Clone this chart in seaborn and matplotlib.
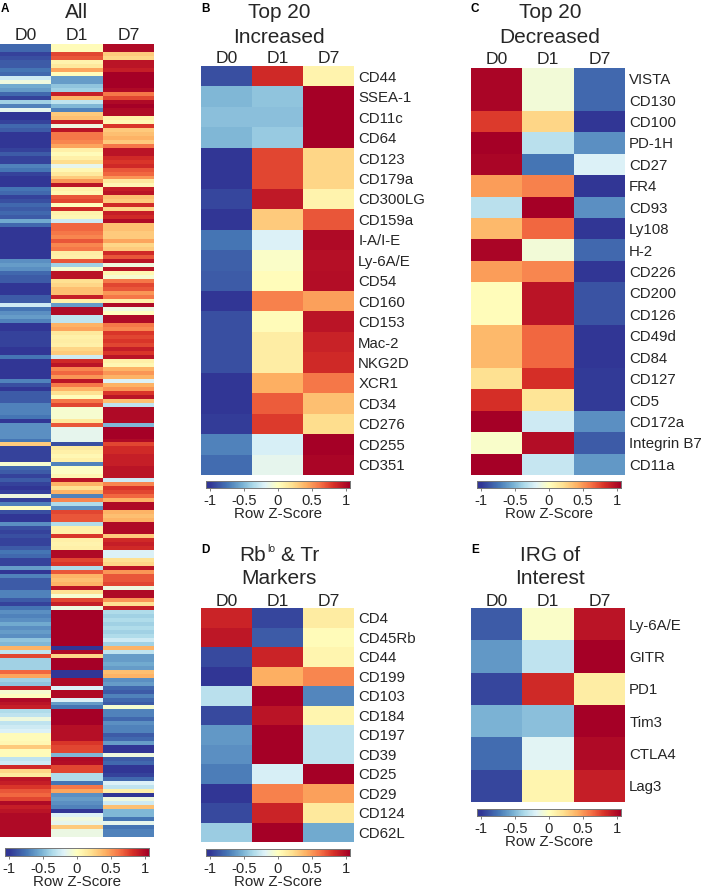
import pandas as pd
import matplotlib
matplotlib.use('Agg')
import matplotlib.pyplot as plt
from matplotlib.colors import LinearSegmentedColormap
import seaborn as sns

days = ['D0', 'D1', 'D7']

# Panel A, all markers (row by row, read from top to bottom)
all_d0 = [-.8,-.8,-.95,-.9,-.85,-.85,-.75,-.8,-.25,-.1,-.55,-.6,-.8,-.95,-.4,-.7,-.15,-1,-1,-.95,
          -.8,-.85,-1.05,-1.05,-1.05,-1,-.95,-.85,-.95,-.95,-.7,-.75,-.95,-1,-1,-1,-.75,-.8,-.95,-.9,
          -.8,-.85,-.8,-.85,-.55,-.8,-1.05,-1.05,-1.05,-1,-1.05,-1.05,-1.05,-1,-.65,-.6,-.65,-.8,-.85,-.85,
          -1,-1,-1,-.85,-.85,
          -.25,-.75,-.65,-.6,-.7,-1,-1,-.95,-.95,-.95,-.95,-1,-1,-.75,-1,-1,-1,-1,-1,-.7,
          -.9,-1,-.85,-.85,-.85,-.7,-.7,-.7,-.75,-1,-.65,-.65,-.65,-.65,-.75,.3,-.95,-.95,-.95,-.95,
          -.05,-.8,-.85,-.95,-.85,-.95,-1,-.95,-.1,-.95,-.7,0,-.9,-1,-1,-.65,-.9,-.95,-.9,-.95,
          -.95,-.85,-.75,-.8,-.95,-.95,-.6,-1,-.7,-.85,-.85,-.85,-.7,-.7,-.85,
          -.95,-.75,-.65,-.7,-.65,-.55,-.65,-.6,-.65,-.45,-.5,.4,-.3,.75,-.4,-.4,-.4,.65,.45,-.4,
          -.45,.9,-.05,0,1,.95,.9,-.35,-.3,-.1,-.3,-.25,-.2,.03,.03,.05,.3,.03,.03,-.3,
          -.25,.85,.25,.15,.95,.9,.8,.7,.65,.75,1,.9,.95,1,1,1,1,1,1]
all_d1 = [.03,.03,.75,.7,.08,.15,.45,.02,-.6,-.6,-.45,-.4,.9,.4,-.3,-.5,-.7,.3,.35,.9,
          -.1,.95,.6,.6,.55,.45,.1,.03,.1,.22,-.15,.05,.15,.3,.5,.95,.1,.05,.7,.75,
          0,.85,.08,.05,-.25,.65,.65,.6,.55,.7,.55,.6,.12,.1,.7,-.4,-.05,.95,.95,.2,
          .25,.35,.35,.9,.1,
          -.6,1,1,-.3,-.3,.4,.45,.15,.1,.12,.1,.25,.3,-.25,.85,.95,.55,.65,.5,.95,
          .6,.4,.2,.02,.6,.75,-.05,-.05,-.05,.15,.7,-.15,-.15,-.15,-.15,-.9,.15,.1,.05,.1,
          -.7,-.02,-.02,.05,.95,.4,.2,.4,-.7,.55,-.35,-.65,.75,.7,.7,-.35,.1,.1,.8,.1,
          .08,.1,1,1,.75,.8,-.35,.7,.4,.35,.4,.95,.2,-.05,.75,
          .9,-.1,1.05,1.05,1.05,1.05,1.05,1.05,1.05,1.05,1.05,-1.05,1,.25,1.05,1.05,1.05,-1,-1,1,
          1,-.2,1,1,-.2,-.6,-.75,1.05,1.05,1.05,1.05,.97,.97,.97,.97,.8,.75,.75,-.5,1,
          .98,.75,.75,-.35,-.35,-.75,.6,.45,-.65,-.6,-.65,-.7,-1,-.2,-.1,-.15,.3,-.12,-.12]
all_d7 = [1,1,.3,.25,.95,.95,.9,1.05,1.05,1.05,1.05,1,.6,.75,1,1.05,1,1,.1,.05,
          .8,.3,.35,.4,.3,.6,.95,.95,.85,.8,.85,.7,.65,.5,.15,.05,.9,.95,.35,.3,
          .85,.25,.9,.85,1,.35,.35,.3,.3,.45,.25,.3,.85,.7,.95,-.1,.95,.05,-.05,.6,
          .75,.7,.5,.6,.1,
          1,-.1,0,1,1,.6,.55,.8,.75,.8,.75,.9,.8,.95,.1,.05,.4,.5,.4,-.2,
          .4,.5,.8,.95,.35,-.3,1,1,1,1,-.5,1.05,1.05,1.05,1,.75,.85,.85,.9,.9,
          .9,.95,.95,.95,-.25,.55,.8,.75,.65,.4,1,1,.4,.35,.4,1,1,1,.3,.85,
          .9,.85,-.2,-.2,.2,.25,.95,.5,.7,.7,.75,-.1,1,1,.5,
          .2,.9,-.35,-.4,-.35,-.4,-.35,-.4,-.35,-.25,-.4,.4,-.3,-.6,-.6,-.55,-.6,.35,.4,-.65,
          -.6,-.8,-.85,-.7,-.8,-.85,-.05,-.7,-.7,-.8,-.65,-.7,-.7,-.85,-.8,-.6,-1,-1,-.1,-.85,
          -.8,-1.05,-1.05,-.95,-.8,-.2,-.3,.1,-1,-.1,-.25,.35,-.5,-.5,-.75,-.15,-.75,-.7,-.7]

# Panel B
inc_labels = ['CD44', 'SSEA-1', 'CD11c', 'CD64', 'CD123', 'CD179a', 'CD300LG', 'CD159a', 'I-A/I-E', 'Ly-6A/E',
              'CD54', 'CD160', 'CD153', 'Mac-2', 'NKG2D', 'XCR1', 'CD34', 'CD276', 'CD255', 'CD351']
inc_d0 = [-.9, -.5, -.47, -.5, -1, -1, -.93, -1.03, -.75, -.83, -.85, -1.03, -.9, -.9, -.9, -1, -1, -.97, -.7, -.78]
inc_d1 = [.85, -.45, -.47, -.43, .75, .75, .92, .3, -.2, -.03, .02, .57, .03, .12, .12, .42, .68, .78, -.22, -.15]
inc_d7 = [.08, 1.05, 1.05, 1.05, .25, .25, .08, .7, 1, .97, .98, .47, .95, .88, .85, .6, .35, .22, 1.06, 1.02]

# Panel C
dec_labels = ['VISTA', 'CD130', 'CD100', 'PD-1H', 'CD27', 'FR4', 'CD93', 'Ly108', 'H-2', 'CD226',
              'CD200', 'CD126', 'CD49d', 'CD84', 'CD127', 'CD5', 'CD172a', 'Integrin B7', 'CD11a']
dec_d0 = [1.02, 1.02, .78, 1.06, 1.02, .48, -.32, .38, 1.02, .48, .02, .02, .38, .38, .2, .82, 1.06, -.04, 1.05]
dec_d1 = [-.08, -.08, .25, -.32, -.75, .57, 1.05, .65, -.08, .55, .95, .95, .65, .65, .82, .18, -.25, .98, -.28]
dec_d7 = [-.8, -.8, -1, -.65, -.2, -1.02, -.65, -1.02, -.8, -1.02, -.88, -.88, -1.02, -1.02, -.98, -.98, -.65, -.85, -.62]

# Panel D
rb_labels = ['CD4', 'CD45Rb', 'CD44', 'CD199', 'CD103', 'CD184', 'CD197', 'CD39', 'CD25', 'CD29', 'CD124', 'CD62L']
rb_d0 = [.87, .93, -.92, -1.02, -.32, -.92, -.62, -.65, -.72, -1.02, -.92, -.42]
rb_d1 = [-.93, -.85, .87, .42, 1.05, .95, 1.06, 1.06, -.22, .57, .87, 1.05]
rb_d7 = [.13, .03, .07, .55, -.68, .07, -.3, -.3, 1.06, .47, .15, -.55]

# Panel E
irg_labels = ['Ly-6A/E', 'GITR', 'PD1', 'Tim3', 'CTLA4', 'Lag3']
irg_d0 = [-.85, -.62, -.93, -.52, -.78, -.93]
irg_d1 = [-.03, -.3, .85, -.47, -.18, .07]
irg_d7 = [.95, 1.06, .12, 1.05, 1.0, .9]

W, H = 703, 889
TXT = '#262626'
plt.rcParams['font.family'] = ['Liberation Sans', 'DejaVu Sans']

# RdYlBu with the blue end reached a bit sooner, the picture is more saturated than the plain one
zscore_cmap = LinearSegmentedColormap.from_list('zscore', [
    (0, '#313695'), (.028, '#313695'), (.146, '#4575b4'), (.245, '#74add1'), (.325, '#abd9e9'),
    (.41, '#e0f3f8'), (.5, '#ffffbf'), (.6, '#fee090'), (.7, '#fdae61'), (.8, '#f46d43'),
    (.885, '#d73027'), (.995, '#a50026'), (1, '#a50026')])


def px_axes(fig, x0, y0, x1, y1):
    # pixel box measured from the top left of the picture
    return fig.add_axes([x0 / W, 1 - y1 / H, (x1 - x0) / W, (y1 - y0) / H])


def panel(fig, d0, d1, d7, labels, box, cbar_box, pad):
    df = pd.DataFrame({'D0': d0, 'D1': d1, 'D7': d7}, columns=days)
    ax = px_axes(fig, *box)
    cax = px_axes(fig, *cbar_box)
    sns.heatmap(df, ax=ax, cbar_ax=cax, cmap=zscore_cmap, vmin=-1.06, vmax=1.06,
                cbar_kws={'orientation': 'horizontal', 'ticks': [-1, -0.5, 0, 0.5, 1]},
                xticklabels=True, yticklabels=labels if labels else False)
    ax.xaxis.tick_top()
    ax.tick_params(axis='x', length=0, labelsize=12.6, labelcolor=TXT, pad=pad, rotation=0)
    ax.yaxis.tick_right()
    ax.tick_params(axis='y', length=0, labelsize=10.8, labelcolor=TXT, pad=3, rotation=0)
    ax.set_xlabel('')
    ax.set_ylabel('')
    cax.set_xticklabels(['-1', '-0.5', '0', '0.5', '1'])
    cax.tick_params(axis='x', length=2.5, width=0.6, color='#666666', labelsize=10.6, labelcolor=TXT, pad=1.5)
    cax.set_xlabel('Row Z-Score', fontsize=10.9, color=TXT, labelpad=-0.5)
    for s in cax.spines.values():
        s.set_visible(True)
        s.set_color('#777777')
        s.set_linewidth(0.6)
    return ax


def put_text(fig, x, y, s, **kw):
    fig.text(x / W, 1 - y / H, s, ha=kw.pop('ha', 'center'), va='baseline', color=kw.pop('color', TXT), **kw)


fig = plt.figure(figsize=(W / 100, H / 100), dpi=100)

panel(fig, all_d0, all_d1, all_d7, None, (0, 44, 154, 837), (5, 848, 149, 856), 1)
panel(fig, inc_d0, inc_d1, inc_d7, inc_labels, (201, 66, 354, 475), (206, 481, 350, 488), 0)
panel(fig, dec_d0, dec_d1, dec_d7, dec_labels, (471, 68, 625, 475), (477, 481, 621, 488), 1)
panel(fig, rb_d0, rb_d1, rb_d7, rb_labels, (201, 608, 354, 842), (206, 849, 350, 856), -1)
panel(fig, irg_d0, irg_d1, irg_d7, irg_labels, (471, 608, 625, 802), (477, 809, 621, 816), -1)

put_text(fig, 77, 18, 'All', fontsize=15)
put_text(fig, 279, 18, 'Top 20', fontsize=15)
put_text(fig, 279, 43, 'Increased', fontsize=15)
put_text(fig, 550, 18, 'Top 20', fontsize=15)
put_text(fig, 550, 43, 'Decreased', fontsize=15)
put_text(fig, 239, 561, 'Rb', fontsize=15, ha='left')
put_text(fig, 267, 552, 'lo', fontsize=7.5, ha='left')
put_text(fig, 281, 561, '& Tr', fontsize=15, ha='left')
put_text(fig, 279, 584, 'Markers', fontsize=15)
put_text(fig, 550, 561, 'IRG of', fontsize=15)
put_text(fig, 550, 584, 'Interest', fontsize=15)

for letter, x, y in [('A', 1, 12), ('B', 201, 12), ('C', 471, 12), ('D', 201, 553), ('E', 471, 553)]:
    put_text(fig, x, y, letter, fontsize=8.5, fontweight='bold', ha='left', color='black')

fig.savefig('out.png', dpi=100)
